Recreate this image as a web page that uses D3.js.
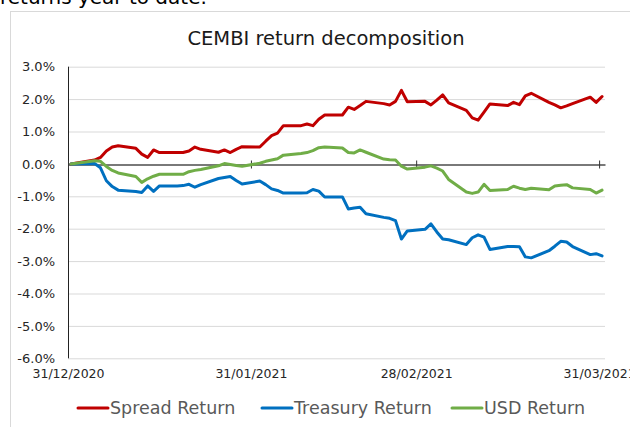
<!DOCTYPE html>
<html lang="en">
<head>
<meta charset="utf-8">
<title>CEMBI return decomposition</title>
<script src="https://d3js.org/d3.v7.min.js"></script>
<style type="text/css">
  body { margin: 0; background: #fff; }
  svg { display: block; font-family: "DejaVu Sans", sans-serif; }
</style>
</head>
<body>
<script type="text/javascript">

// data: business days, cumulative return in %
const dates = ["2020-12-31",
  "2021-01-04","2021-01-05","2021-01-06","2021-01-07","2021-01-08","2021-01-11","2021-01-12","2021-01-13","2021-01-14","2021-01-15",
  "2021-01-18","2021-01-19","2021-01-20","2021-01-21","2021-01-22","2021-01-25","2021-01-26","2021-01-27","2021-01-28","2021-01-29",
  "2021-02-01","2021-02-02","2021-02-03","2021-02-04","2021-02-05","2021-02-08","2021-02-09","2021-02-10","2021-02-11","2021-02-12",
  "2021-02-15","2021-02-16","2021-02-17","2021-02-18","2021-02-19","2021-02-22","2021-02-23","2021-02-24","2021-02-25","2021-02-26",
  "2021-03-01","2021-03-02","2021-03-03","2021-03-04","2021-03-05","2021-03-08","2021-03-09","2021-03-10","2021-03-11","2021-03-12",
  "2021-03-15","2021-03-16","2021-03-17","2021-03-18","2021-03-19","2021-03-22","2021-03-23","2021-03-24","2021-03-25","2021-03-26",
  "2021-03-29","2021-03-30","2021-03-31"];

const spreadReturn = [0.00,
  0.12, 0.20, 0.40, 0.52, 0.56, 0.48, 0.30, 0.20, 0.43, 0.35,
  0.35, 0.35, 0.40, 0.52, 0.45, 0.36, 0.43, 0.35, 0.45, 0.53,
  0.52, 0.70, 0.87, 0.95, 1.18, 1.18, 1.23, 1.18, 1.38, 1.51,
  1.51, 1.75, 1.68, 1.80, 1.93, 1.86, 1.82, 1.93, 2.27, 1.92,
  1.93, 1.82, 1.97, 2.13, 1.88, 1.65, 1.42, 1.35, 1.60, 1.85,
  1.80, 1.90, 1.83, 2.10, 2.18, 1.90, 1.82, 1.73, 1.79, 1.86,
  2.06, 1.90, 2.08];

const treasuryReturn = [0.00,
  0.01, -0.12, -0.52, -0.70, -0.81, -0.85, -0.88, -0.68, -0.85, -0.68,
  -0.68, -0.67, -0.63, -0.72, -0.64, -0.45, -0.42, -0.39, -0.51, -0.62,
  -0.53, -0.64, -0.77, -0.82, -0.90, -0.90, -0.89, -0.79, -0.84, -1.02,
  -1.02, -1.39, -1.36, -1.34, -1.54, -1.65, -1.68, -1.75, -2.32, -2.07,
  -2.02, -1.85, -2.10, -2.32, -2.34, -2.49, -2.28, -2.19, -2.26, -2.64,
  -2.55, -2.55, -2.56, -2.87, -2.90, -2.68, -2.54, -2.39, -2.41, -2.55,
  -2.80, -2.77, -2.84];

const usdReturn = [0.00,
  0.10, 0.08, -0.08, -0.20, -0.28, -0.39, -0.57, -0.46, -0.38, -0.32,
  -0.32, -0.32, -0.24, -0.20, -0.17, -0.06, 0.01, -0.02, -0.05, -0.07,
  0.02, 0.08, 0.12, 0.16, 0.27, 0.32, 0.35, 0.41, 0.50, 0.52,
  0.49, 0.35, 0.34, 0.43, 0.36, 0.15, 0.13, 0.12, -0.07, -0.16,
  -0.10, -0.06, -0.13, -0.22, -0.48, -0.87, -0.91, -0.87, -0.63, -0.82,
  -0.79, -0.69, -0.75, -0.79, -0.75, -0.80, -0.68, -0.66, -0.64, -0.74,
  -0.79, -0.90, -0.81];

const seriesNames = ["Spread Return", "Treasury Return", "USD Return"];
const seriesColors = ["#C00000", "#0070C0", "#70AD47"];
const yTicks = [3, 2, 1, 0, -1, -2, -3, -4, -5, -6];
const xTickDates = ["2020-12-31", "2021-01-31", "2021-02-28", "2021-03-31"];

// consts
const svgW = 630;
const svgH = 427;
const plotL = 68, plotR = 605, plotT = 66.7, plotB = 358.3;

const parse = d3.timeParse("%Y-%m-%d");
const fmtDate = d3.timeFormat("%d/%m/%Y");
const fmtPct = d3.formatLocale({decimal: ".", thousands: ",", grouping: [3], currency: ["", ""], minus: "-"}).format(".1f");

const series = [spreadReturn, treasuryReturn, usdReturn].map((vals, i) => ({
  name: seriesNames[i],
  color: seriesColors[i],
  values: vals.map((v, j) => ({date: parse(dates[j]), value: v}))
}));

const x = d3.scaleTime()
            .domain([parse("2020-12-31"), parse("2021-04-01")])
            .range([plotL, plotR]);
const y = d3.scaleLinear()
            .domain([-6, 3])
            .range([plotB, plotT]);

// svg
const svg = d3.select("body")
        .append("svg")
        .attr("width", svgW)
        .attr("height", svgH);

// cut-off text above the chart
svg.append("text")
   .attr("x", 0)
   .attr("y", 4)
   .attr("font-size", 20)
   .attr("fill", "#000")
   .text("returns year to date.");

// chart frame
svg.append("rect")
   .attr("x", 10.5).attr("y", 11.5)
   .attr("width", 640).attr("height", 440)
   .attr("fill", "none")
   .attr("stroke", "#D9D9D9");

// title
svg.append("text")
   .attr("x", 326).attr("y", 45)
   .attr("text-anchor", "middle")
   .attr("font-size", 19.5)
   .attr("fill", "#1a1a1a")
   .text("CEMBI return decomposition");

// gridlines
svg.append("g")
   .attr("transform", `translate(${plotL},0)`)
   .call(d3.axisLeft(y).tickValues(yTicks.filter(d => d !== 0)).tickSize(-(plotR - plotL)).tickFormat(""))
   .call(g => g.select(".domain").remove())
   .call(g => g.selectAll("line").attr("stroke", "#D9D9D9"));

// y axis labels + line
svg.append("g")
   .attr("transform", `translate(${plotL},0)`)
   .call(d3.axisLeft(y).tickValues(yTicks).tickSize(0).tickPadding(13).tickFormat(d => fmtPct(d) + "%"))
   .call(g => g.select(".domain").remove())
   .call(g => g.selectAll("text").attr("font-size", 13).attr("font-family", "DejaVu Sans").attr("fill", "#262626"));

svg.append("line")
   .attr("x1", plotL + 0.5).attr("x2", plotL + 0.5)
   .attr("y1", plotT).attr("y2", plotB)
   .attr("stroke", "#222");

// zero line with cross ticks
const zeroAxis = svg.append("g")
   .attr("transform", `translate(0,${Math.round(y(0)) + 0.5})`)
   .call(d3.axisBottom(x).tickValues(xTickDates.map(parse)).tickSizeOuter(0).tickFormat(""));
zeroAxis.select(".domain").attr("stroke", "#4d4d4d").attr("stroke-width", 1.4);
zeroAxis.selectAll(".tick line").attr("y1", -4).attr("y2", 4).attr("stroke", "#333");

// date labels along the bottom
svg.append("g")
   .attr("transform", `translate(0,${plotB})`)
   .call(d3.axisBottom(x).tickValues(xTickDates.map(parse)).tickSize(0).tickPadding(11).tickFormat(fmtDate))
   .call(g => g.select(".domain").remove())
   .call(g => g.selectAll("text").attr("font-size", 12.5).attr("font-family", "DejaVu Sans").attr("fill", "#262626"));

// lines, each day placed in the middle of its slot
const line = d3.line()
               .x(d => x(d3.timeHour.offset(d.date, 12)))
               .y(d => y(d.value));

svg.append("g")
   .selectAll("path")
   .data(series)
   .join("path")
   .attr("d", d => line(d.values))
   .attr("fill", "none")
   .attr("stroke", d => d.color)
   .attr("stroke-width", 3)
   .attr("stroke-linejoin", "round")
   .attr("stroke-linecap", "round");

// legend
const legendX = [78, 262, 452];
const lg = svg.append("g")
   .selectAll("g")
   .data(series)
   .join("g")
   .attr("transform", (d, i) => `translate(${legendX[i]},408)`);

lg.append("line")
  .attr("x1", 0).attr("x2", 30)
  .attr("stroke", d => d.color)
  .attr("stroke-width", 3)
  .attr("stroke-linecap", "round");

lg.append("text")
  .attr("x", 32)
  .attr("dy", "0.35em")
  .attr("font-size", 17.5)
  .attr("fill", "#595959")
  .text(d => d.name);

</script>
</body>
</html>
